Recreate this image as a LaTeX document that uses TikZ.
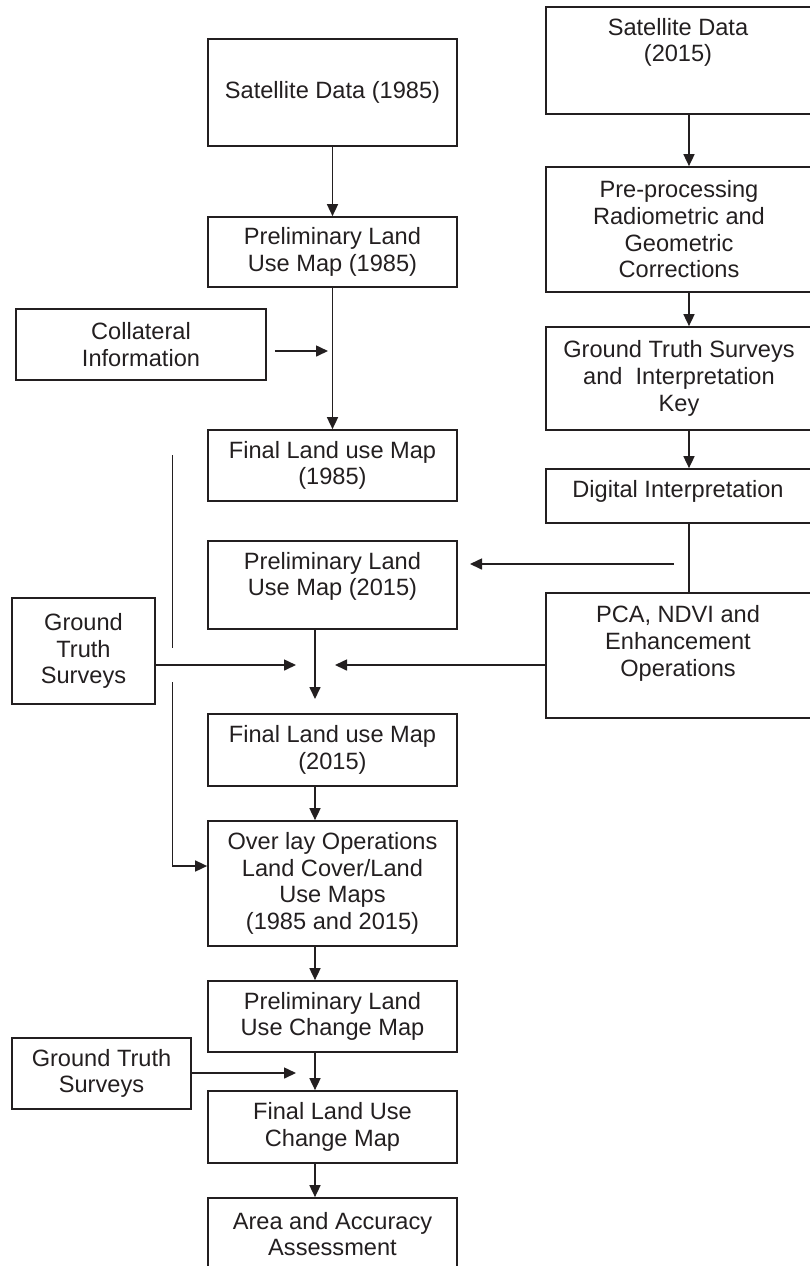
\documentclass[tikz,border=0pt]{standalone}
\usepackage{fontspec}
\setmainfont{Liberation Sans}
\usetikzlibrary{arrows.meta}
\definecolor{ink}{HTML}{231F20}

\tikzset{
  box/.style={draw=ink, line width=0.85pt, align=center, inner sep=2pt},
  txt/.style={align=center, inner sep=0pt},
  arr/.style={draw=ink, line width=0.8pt, -{Triangle[length=6pt,width=5.5pt]}},
  ln/.style={draw=ink, line width=0.8pt}
}

\begin{document}
\begin{tikzpicture}[x=0.5pt, y=-0.5pt, text=ink, font=\fontsize{11.8}{13.35}\selectfont]
    \useasboundingbox (0,0) rectangle (810,1266);

    % main column
    \node[box, minimum width=124.5pt, minimum height=53.5pt] (sat85) at (332.5,92.5) {Satellite Data (1985)};
    \node[box, minimum width=124.5pt, minimum height=35pt] (pre85) at (332.5,252) {Preliminary Land\\Use Map (1985)};
    \node[box, minimum width=124.5pt, minimum height=35.5pt] (fin85) at (332.5,465.5) {Final Land use Map\\(1985)};
    \node[box, minimum width=124.5pt, minimum height=44pt] (pre15) at (332.5,585) {};
    \node[txt] (pre15t) at (332.5,576.5) {Preliminary Land\\Use Map (2015)};
    \node[box, minimum width=124.5pt, minimum height=36pt] (fin15) at (332.5,750) {Final Land use Map\\(2015)};
    \node[box, minimum width=124.5pt, minimum height=62.5pt] (ovl) at (332.5,883.5) {Over lay Operations\\Land Cover/Land\\Use Maps\\(1985 and 2015)};
    \node[box, minimum width=124.5pt, minimum height=35.5pt] (prechg) at (332.5,1016.5) {Preliminary Land\\Use Change Map};
    \node[box, minimum width=124.5pt, minimum height=36pt] (finchg) at (332.5,1127) {Final Land Use\\Change Map};
    \node[box, minimum width=124.5pt, minimum height=36pt] (acc) at (332.5,1234) {Area and Accuracy\\Assessment};

    % right column
    \node[box, minimum width=133pt, minimum height=53.5pt] (sat15) at (679,60.5) {};
    \node[txt] (sat15t) at (678,42.5) {Satellite Data\\(2015)};
    \node[box, minimum width=133pt, minimum height=62.5pt] (prep) at (679,229.5) {Pre-processing\\Radiometric and\\Geometric\\Corrections};
    \node[box, minimum width=133pt, minimum height=51.5pt] (key) at (679,378.5) {Ground Truth Surveys\\and\ \ Interpretation\\Key};
    \node[box, minimum width=133pt, minimum height=27pt] (digi) at (679,496) {};
    \node[txt] (digit) at (678,491) {Digital Interpretation};
    \node[box, minimum width=133pt, minimum height=62.5pt] (pca) at (679,655.5) {};
    \node[txt] (pcat) at (678,643.5) {PCA, NDVI and\\Enhancement\\Operations};

    % left side
    \node[box, minimum width=125pt, minimum height=35.5pt] (coll) at (141,344.5) {Collateral\\Information};
    \node[box, minimum width=71.5pt, minimum height=53pt] (gt1) at (83.5,651) {Ground\\Truth\\Surveys};
    \node[box, minimum width=89.5pt, minimum height=35.5pt] (gt2) at (101.5,1073.5) {Ground Truth\\Surveys};

    \coordinate (ax) at (689,0);
    \coordinate (bx) at (315,0);
    \coordinate (cin) at (328,351);
    \coordinate (d1) at (674,564);
    \coordinate (d2) at (470,564);
    \coordinate (p1) at (335,665);
    \coordinate (q1) at (296,665);
    \coordinate (m15) at (315,699);
    \coordinate (g1) at (172.5,455);
    \coordinate (g2) at (172.5,648);
    \coordinate (g3) at (172.5,682);
    \coordinate (q2) at (296,1073);

    \draw[arr](sat85)--(pre85);
    \draw[arr](pre85)--(fin85);
    \draw[arr]([xshift=4pt]coll.east |- cin)--(cin);

    \draw[arr](sat15.south -| ax)--(prep.north -| ax);
    \draw[arr](prep.south -| ax)--(key.north -| ax);
    \draw[arr](key.south -| ax)--(digi.north -| ax);
    \draw[ln](digi.south -| ax)--(pca.north -| ax);
    \draw[arr](d1)--(d2);
    \draw[arr](pca.west |- p1)--(p1);

    \draw[arr](gt1.east |- q1)--(q1);
    \draw[ln](g1)--(g2);
    \draw[arr](g3)|-([yshift=8.75pt]ovl.west);

    \draw[arr](pre15.south -| bx)--(m15);
    \draw[arr](fin15.south -| bx)--(ovl.north -| bx);
    \draw[arr](ovl.south -| bx)--(prechg.north -| bx);
    \draw[arr](prechg.south -| bx)--(finchg.north -| bx);
    \draw[arr](gt2.east |- q2)--(q2);
    \draw[arr](finchg.south -| bx)--(acc.north -| bx);
\end{tikzpicture}
\end{document}
